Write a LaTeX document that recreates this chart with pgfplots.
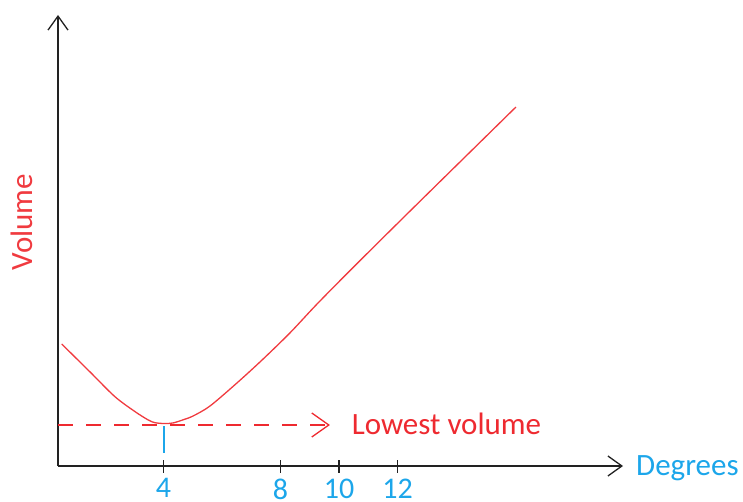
\documentclass[border=0pt]{standalone}
\usepackage{pgfplots}
\pgfplotsset{compat=1.18}
\usepackage{fontspec}
\setmainfont{Carlito}
\usetikzlibrary{arrows.meta}

\definecolor{paintred}{HTML}{F03A3F}
\definecolor{dashred}{HTML}{EE2A30}
\definecolor{paintblue}{HTML}{1CA6EA}
\definecolor{axisgray}{HTML}{222222}

% volume curve, x in degrees, y in arbitrary volume units
\pgfplotstableread{
x     y
0.52  12.2
1.49  9.4
2.34  6.93
3.03  5.43
3.48  4.6
3.71  4.33
4.02  4.25
4.32  4.3
4.70  4.65
5.01  5.0
5.59  6.0
6.51  8.3
7.37  10.6
8.32  13.3
9.25  16.2
10.5  19.9
12.5  25.7
16.05 35.9
}\volumedata

\begin{document}
\begin{tikzpicture}[x=1pt,y=1pt]
\useasboundingbox (0,0) rectangle (743,501);
\begin{axis}[
    at={(58pt,35pt)}, anchor=south west,
    scale only axis,
    width=565pt, height=451pt,
    xmin=0.393, xmax=19.71,
    ymin=0, ymax=45.1,
    axis lines=left,
    axis line style={-{Straight Barb[length=14pt,width=20pt,line width=1.3pt]}, line width=1.6pt, axisgray},
    xtick={4,8,10,12},
    ytick=\empty,
    tick align=center,
    major tick length=13pt,
    every tick/.style={axisgray, line width=1.6pt},
    font=\fontsize{31}{34}\selectfont,
    /pgf/number format/assume math mode=true,
    xticklabel style={text=paintblue, inner sep=0pt, anchor=north, yshift=-6pt, font=\fontsize{30}{32}\selectfont},
    xlabel={Degrees},
    xlabel style={at={(axis description cs:1,0)}, anchor=base west, inner sep=0pt, xshift=13pt, yshift=-9pt, text=paintblue},
    ylabel={Volume},
    ylabel style={at={(axis description cs:0,0.541)}, anchor=base, inner sep=0pt, yshift=25pt, text=paintred},
    clip=false,
]
\addplot[paintred, line width=1.3pt, smooth, tension=0.5] table {\volumedata};
\addplot[dashred, line width=1.8pt, dash pattern=on 15pt off 13pt,
    -{Straight Barb[length=17pt,width=24pt,line width=1.3pt]}]
    coordinates {(0.393,4.1) (9.69,4.1)};
\addplot[paintblue, line width=2pt] coordinates {(4,4.0) (4,1.3)};
\node[anchor=base west, inner sep=0pt, text=dashred] at (axis cs:10.43,3.2) {Lowest volume};
\end{axis}
\end{tikzpicture}
\end{document}
